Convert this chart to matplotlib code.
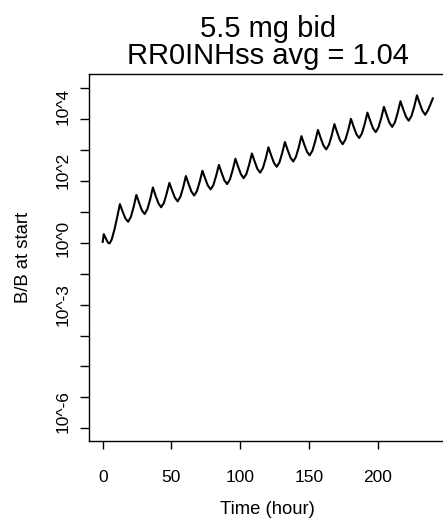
import matplotlib
matplotlib.use("Agg")
import matplotlib.pyplot as plt

plt.rcParams['font.family'] = ['Liberation Sans', 'DejaVu Sans']

# time (hour) and B/B at start on the axis' log scale (one tick step = one unit)
time_h = [0, 0.8, 2.5, 4, 5, 6.5, 8.5, 10.5,
          12.5, 14.5, 16.5, 18.5, 20.5, 22.5,
          24.5, 26.5, 28.5, 30.5, 32.5, 34.5,
          36.5, 38.5, 40.5, 42.5, 44.5, 46.5,
          48.5, 50.5, 52.5, 54.5, 56.5, 58.5,
          60.5, 62.5, 64.5, 66.5, 68.5, 70.5,
          72.5, 74.5, 76.5, 78.5, 80.5, 82.5,
          84.5, 86.5, 88.5, 90.5, 92.5, 94.5,
          96.5, 98.5, 100.5, 102.5, 104.5, 106.5,
          108.5, 110.5, 112.5, 114.5, 116.5, 118.5,
          120.5, 122.5, 124.5, 126.5, 128.5, 130.5,
          132.5, 134.5, 136.5, 138.5, 140.5, 142.5,
          144.5, 146.5, 148.5, 150.5, 152.5, 154.5,
          156.5, 158.5, 160.5, 162.5, 164.5, 166.5,
          168.5, 170.5, 172.5, 174.5, 176.5, 178.5,
          180.5, 182.5, 184.5, 186.5, 188.5, 190.5,
          192.5, 194.5, 196.5, 198.5, 200.5, 202.5,
          204.5, 206.5, 208.5, 210.5, 212.5, 214.5,
          216.5, 218.5, 220.5, 222.5, 224.5, 226.5,
          228.5, 230.5, 232.5, 234.5, 236.5, 238.5, 240]
log_bb = [0.03, 0.28, 0.12, 0.0, -0.02, 0.10, 0.42, 0.82,
          1.25, 1.01, 0.79, 0.68, 0.84, 1.16,
          1.55, 1.29, 1.05, 0.93, 1.09, 1.40,
          1.79, 1.52, 1.28, 1.15, 1.29, 1.59,
          1.94, 1.69, 1.46, 1.34, 1.49, 1.79,
          2.16, 1.90, 1.66, 1.53, 1.67, 1.97,
          2.33, 2.08, 1.85, 1.73, 1.87, 2.17,
          2.52, 2.26, 2.02, 1.90, 2.05, 2.35,
          2.72, 2.46, 2.22, 2.09, 2.23, 2.53,
          2.89, 2.63, 2.39, 2.27, 2.42, 2.72,
          3.09, 2.83, 2.59, 2.46, 2.60, 2.90,
          3.26, 3.00, 2.76, 2.63, 2.78, 3.08,
          3.45, 3.19, 2.95, 2.83, 2.98, 3.28,
          3.65, 3.39, 3.15, 3.02, 3.17, 3.47,
          3.84, 3.57, 3.32, 3.19, 3.34, 3.64,
          4.01, 3.75, 3.51, 3.39, 3.54, 3.84,
          4.21, 3.95, 3.71, 3.58, 3.73, 4.03,
          4.40, 4.13, 3.88, 3.75, 3.90, 4.21,
          4.58, 4.32, 4.08, 3.95, 4.10, 4.40,
          4.77, 4.51, 4.27, 4.14, 4.29, 4.50, 4.67]

x_ticks = [0, 50, 100, 150, 200]
y_ticks = [5, 4, 3, 2, 1, 0, -1, -2, -3, -4, -5, -6]
y_label_pos = [4.4, 2.35, 0.15, -2.0, -5.45]
y_label_txt = ['10^4', '10^2', '10^0', '10^-3', '10^-6']

fig = plt.figure(figsize=(4.43, 5.26), dpi=100)
ax = fig.add_axes([0.202, 0.1616, 0.8047, 0.6977])

ax.plot(time_h, log_bb, color='black', lw=1.5)

ax.set_xlim(-9.6, 249.6)
ax.set_ylim(-6.41, 5.46)

ax.set_xticks(x_ticks)
ax.set_xticklabels([str(v) for v in x_ticks], fontsize=12.5)
ax.set_yticks(y_ticks)
ax.set_yticklabels([])
ax.tick_params(axis='x', length=6, width=1, pad=15)
ax.tick_params(axis='y', length=6.5, width=1)

for v, t in zip(y_label_pos, y_label_txt):
    ax.text(-0.073, v, t, transform=ax.get_yaxis_transform(),
            rotation=90, ha='center', va='center', fontsize=12.5)

for s in ax.spines.values():
    s.set_linewidth(1)

ax.set_title("5.5 mg bid\nRR0INHss avg = 1.04", fontsize=21, pad=7, linespacing=0.95)

fig.text(267.8 / 443, 1 - 510 / 526, "Time (hour)", ha='center', va='center', fontsize=13.3)
fig.text(24 / 443, 1 - 257.5 / 526, "B/B at start", ha='center', va='center',
         rotation=90, fontsize=13.3)

fig.savefig("out.png", dpi=100)
